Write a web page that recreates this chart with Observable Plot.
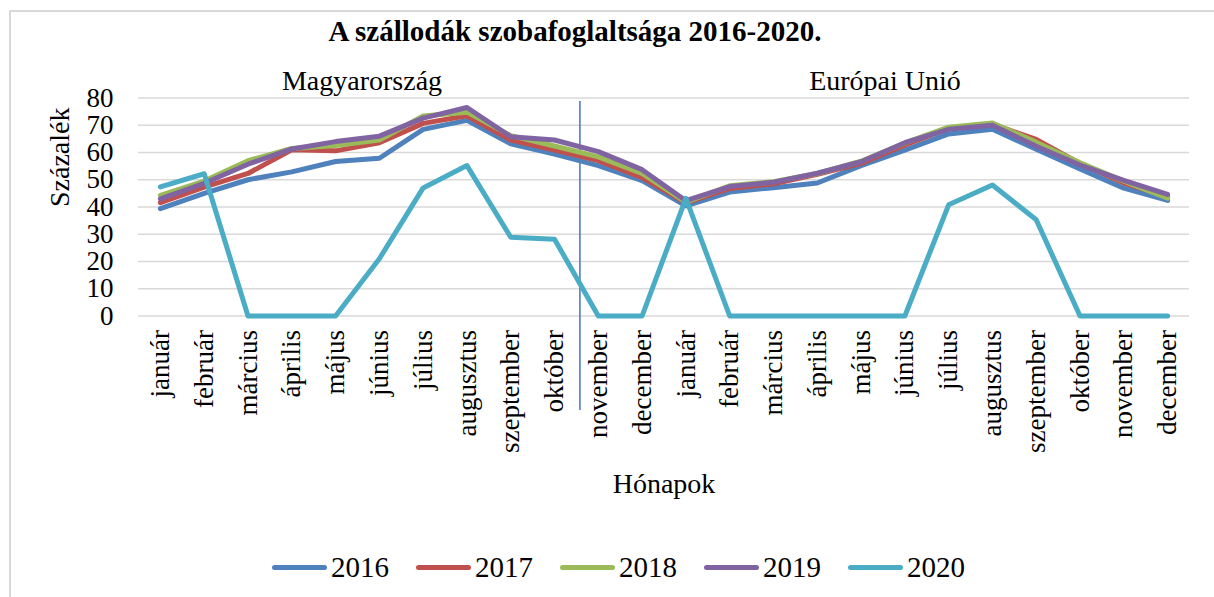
<!DOCTYPE html>
<html>
<head>
<meta charset="utf-8">
<script src="https://cdn.jsdelivr.net/npm/d3@7"></script>
<script src="https://cdn.jsdelivr.net/npm/@observablehq/plot@0.6"></script>
<style>
  body { margin: 0; background: #fff; font-family: "Liberation Serif", "Times New Roman", serif; color: #000; }
  #wrap { position: relative; width: 1214px; height: 597px; overflow: hidden; background: #fff; }
  #frame { position: absolute; left: 9px; top: 10px; width: 1230px; height: 620px; border: 2px solid #d9d9d9; box-sizing: border-box; pointer-events: none; }
  #titlebar { position: relative; height: 58px; }
  #title { position: absolute; left: 0; width: 1150px; top: 17px; text-align: center; font-size: 29px; font-weight: bold; line-height: 1; white-space: nowrap; }
  .sub { position: absolute; top: 67px; font-size: 28px; line-height: 1; white-space: nowrap; transform: translateX(-50%); z-index: 2; }
  #chart svg { display: block; }
  #legend { height: 60px; display: flex; align-items: center; padding-left: 272px; box-sizing: border-box; }
  .item { display: flex; align-items: center; margin-right: 27px; }
  .sw { width: 55px; height: 5px; border-radius: 3px; margin-right: 4px; }
  .lab { font-size: 29px; line-height: 1; }
</style>
</head>
<body>
<div id="wrap">
  <div id="frame"></div>
  <div id="titlebar"><div id="title">A szállodák szobafoglaltsága 2016-2020.</div></div>
  <div class="sub" style="left:362px">Magyarország</div>
  <div class="sub" style="left:885px">Európai Unió</div>
  <div id="chart"></div>
  <div id="legend"></div>
</div>
<script>
const months = ["január","február","március","április","május","június","július","augusztus","szeptember","október","november","december"];
const tickLabels = months.concat(months);
const yTicks = [0, 10, 20, 30, 40, 50, 60, 70, 80];
const years = ["2016", "2017", "2018", "2019", "2020"];
const colors = ["#4f81bd", "#c0504d", "#9bbb59", "#8064a2", "#4bacc6"];
// first 12 values: Magyarország, last 12: Európai Unió
const v2016 = [39.4, 45.0, 50.0, 52.9, 56.7, 57.9, 68.5, 71.8, 63.2, 59.4, 55.2, 49.7,
               40.4, 45.5, 47.1, 48.8, 55.2, 60.9, 66.8, 68.5, 61.2, 54.0, 46.9, 42.4];
const v2017 = [41.6, 47.3, 52.3, 61.0, 60.6, 63.6, 70.7, 73.5, 64.6, 60.9, 57.0, 50.8,
               41.5, 46.8, 48.5, 52.0, 56.0, 62.8, 68.8, 70.4, 64.8, 56.0, 48.8, 43.8];
const v2018 = [44.3, 49.5, 57.0, 61.5, 62.6, 64.6, 73.4, 74.8, 66.2, 62.4, 58.4, 52.3,
               41.8, 47.8, 49.3, 52.3, 56.8, 63.5, 69.3, 70.8, 63.8, 56.2, 49.5, 43.2];
const v2019 = [43.0, 48.7, 55.7, 61.3, 64.0, 66.0, 72.6, 76.5, 65.8, 64.6, 60.3, 53.7,
               42.3, 47.5, 49.1, 52.4, 56.6, 63.6, 68.5, 70.0, 62.3, 55.4, 49.8, 44.6];
const v2020 = [47.4, 52.2, 0, 0, 0, 21.0, 47.0, 55.2, 28.9, 28.2, 0, 0,
               43.2, 0, 0, 0, 0, 0, 40.8, 48.1, 35.3, 0, 0, 0];
const separator = 9.58; // divider line drawn between október and november
const series = [v2016, v2017, v2018, v2019, v2020];

const rows = [];
years.forEach((yr, k) => series[k].forEach((v, i) => rows.push({year: yr, i, v})));

const chart = Plot.plot({
  width: 1214,
  height: 479,
  marginTop: 39.5,
  marginBottom: 221.5,
  marginLeft: 138,
  marginRight: 25,
  style: {fontFamily: "'Liberation Serif', 'Times New Roman', serif", fontSize: "27px", color: "#000", background: "transparent", overflow: "visible"},
  x: {type: "linear", domain: [-0.5, 23.5]},
  y: {domain: [0, 80]},
  color: {domain: years, range: colors},
  marks: [
    Plot.gridY(yTicks, {stroke: "#d9d9d9", strokeOpacity: 1, strokeWidth: 1.7}),
    Plot.axisY(yTicks, {tickSize: 0, tickPadding: 25, label: null, fontSize: 27}),
    Plot.axisX(d3.range(24), {tickSize: 0, tickPadding: 14, tickRotate: -90, tickFormat: i => tickLabels[i], label: null, fontSize: 27}),
    Plot.ruleX([separator], {y1: -34.7, y2: 78.7, stroke: "#4472c4", strokeWidth: 1.5}),
    Plot.line(rows, {x: "i", y: "v", z: "year", stroke: "year", strokeWidth: 5, strokeLinejoin: "round", strokeLinecap: "round"}),
    Plot.text(["Százalék"], {frameAnchor: "left", dx: -78, rotate: -90, fontSize: 28}),
    Plot.text(["Hónapok"], {frameAnchor: "bottom", dy: 177, fontSize: 28})
  ]
});
document.getElementById("chart").appendChild(chart);

const legend = document.getElementById("legend");
years.forEach((yr, k) => {
  const item = document.createElement("div");
  item.className = "item";
  const sw = document.createElement("div");
  sw.className = "sw";
  sw.style.background = colors[k];
  const lab = document.createElement("span");
  lab.className = "lab";
  lab.textContent = yr;
  item.appendChild(sw);
  item.appendChild(lab);
  legend.appendChild(item);
});
</script>
</body>
</html>
